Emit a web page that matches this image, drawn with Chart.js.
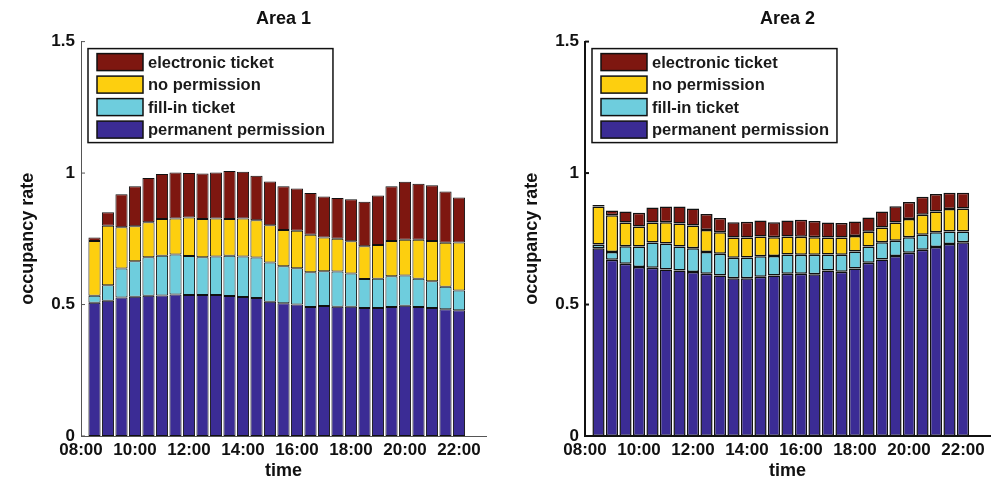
<!DOCTYPE html>
<html>
<head>
<meta charset="utf-8">
<script src="https://cdn.jsdelivr.net/npm/chart.js@4"></script>
<style>
  body { margin: 0; background: #fff; }
  #wrap { position: relative; width: 995px; height: 482px; }
  canvas { position: absolute; top: 0; }
</style>
</head>
<body>
<div id="wrap">
  <canvas id="area1" width="504" height="482" style="left:0"></canvas>
  <canvas id="area2" width="491" height="482" style="left:504px"></canvas>
</div>
<script>
// half-hour slots, bar k sits at slot k (slot 0 = 08:00)
const slotTimes = ['08:30','09:00','09:30','10:00','10:30','11:00','11:30','12:00','12:30','13:00',
  '13:30','14:00','14:30','15:00','15:30','16:00','16:30','17:00','17:30','18:00',
  '18:30','19:00','19:30','20:00','20:30','21:00','21:30','22:00'];
const tickSlots = [0, 4, 8, 12, 16, 20, 24, 28];
const tickLabels = ['08:00','10:00','12:00','14:00','16:00','18:00','20:00','22:00'];
const yTicks = [0, 0.5, 1, 1.5];

const seriesNames = ['permanent permission', 'fill-in ticket', 'no permission', 'electronic ticket'];
const seriesColors = ['#3b2c95', '#6ecddd', '#fdcf0f', '#7e1710'];

// Area 1
const area1Permanent = [0.507,0.514,0.527,0.530,0.533,0.534,0.538,0.536,0.536,0.536,0.532,0.529,0.525,0.511,
  0.505,0.500,0.491,0.494,0.492,0.492,0.487,0.487,0.491,0.495,0.491,0.487,0.482,0.478];
const area1FillIn = [0.026,0.059,0.110,0.135,0.147,0.152,0.152,0.149,0.144,0.147,0.154,0.154,0.154,0.149,
  0.141,0.138,0.132,0.133,0.134,0.126,0.110,0.111,0.117,0.115,0.107,0.102,0.086,0.075];
const area1NoPerm = [0.209,0.227,0.157,0.133,0.133,0.139,0.137,0.146,0.145,0.144,0.139,0.144,0.142,0.142,
  0.137,0.143,0.142,0.128,0.124,0.123,0.125,0.128,0.134,0.136,0.148,0.153,0.167,0.183];
const area1Electronic = [0.013,0.051,0.125,0.152,0.168,0.171,0.175,0.169,0.173,0.175,0.183,0.178,0.169,0.166,
  0.167,0.160,0.159,0.156,0.155,0.159,0.169,0.189,0.208,0.221,0.213,0.212,0.195,0.171];

// Area 2
const area2Permanent = [0.714,0.670,0.655,0.643,0.640,0.633,0.629,0.624,0.617,0.610,0.600,0.600,0.606,0.610,
  0.617,0.617,0.615,0.629,0.625,0.637,0.659,0.671,0.685,0.697,0.708,0.719,0.730,0.737];
const area2FillIn = [0.014,0.030,0.067,0.078,0.096,0.099,0.092,0.090,0.083,0.083,0.078,0.079,0.078,0.075,
  0.073,0.072,0.074,0.061,0.064,0.065,0.062,0.066,0.058,0.059,0.057,0.056,0.048,0.041];
const area2NoPerm = [0.145,0.140,0.090,0.076,0.076,0.081,0.087,0.087,0.083,0.082,0.077,0.076,0.075,0.071,
  0.069,0.069,0.067,0.065,0.066,0.059,0.056,0.056,0.069,0.069,0.076,0.079,0.085,0.087];
const area2Electronic = [0.006,0.018,0.042,0.052,0.057,0.060,0.065,0.064,0.061,0.054,0.058,0.060,0.061,0.057,
  0.061,0.064,0.062,0.057,0.055,0.055,0.054,0.061,0.062,0.065,0.069,0.066,0.062,0.060];

const FONT = '"Liberation Sans", Arial, Helvetica, sans-serif';

// boxed legend in the top-left of the plot + inward y ticks (matlab style)
const boxLegend = {
  id: 'boxLegend',
  afterDatasetsDraw(chart, args, opts) {
    const {ctx, chartArea} = chart;
    const x0 = chartArea.left + 7, y0 = chartArea.top + 7;
    const items = chart.data.datasets.slice().reverse();
    ctx.save();
    ctx.font = 'bold 16.5px ' + FONT;
    const w = Math.max(...items.map(d => ctx.measureText(d.label).width)) + 68;
    const h = items.length * 22.5 + 4;
    ctx.fillStyle = '#fff';
    ctx.fillRect(x0, y0, w, h);
    ctx.strokeStyle = '#111';
    ctx.lineWidth = 1.5;
    ctx.strokeRect(x0, y0, w, h);
    items.forEach((d, i) => {
      const cy = y0 + 13.5 + i * 22.5;
      ctx.fillStyle = d.backgroundColor;
      ctx.fillRect(x0 + 9, cy - 8.5, 46, 17);
      ctx.lineWidth = 1.5;
      ctx.strokeRect(x0 + 9, cy - 8.5, 46, 17);
      ctx.fillStyle = '#1a1a1a';
      ctx.textBaseline = 'middle';
      ctx.fillText(d.label, x0 + 60, cy + 1);
    });
    // tick marks pointing into the plot
    const ys = chart.scales.y;
    ctx.strokeStyle = opts.axisColor;
    ctx.lineWidth = opts.axisWidth;
    yTicks.forEach(v => {
      const py = ys.getPixelForValue(v);
      ctx.beginPath();
      ctx.moveTo(chartArea.left, py);
      ctx.lineTo(chartArea.left + 4, py);
      ctx.stroke();
    });
    ctx.restore();
  }
};

function makeChart(id, title, series, padRight, borderW, axisColor, axisWidth) {
  const datasets = series.map((vals, s) => ({
    label: seriesNames[s],
    data: vals.map((v, i) => ({x: i + 1, y: v})),
    backgroundColor: seriesColors[s],
    borderColor: '#111',
    borderWidth: borderW,
    borderSkipped: false,
    barPercentage: 0.9,
    categoryPercentage: 1
  }));

  return new Chart(document.getElementById(id), {
    type: 'bar',
    data: {datasets: datasets},
    plugins: [boxLegend],
    options: {
      responsive: false,
      animation: false,
      layout: {padding: {top: 0, right: padRight, bottom: 0, left: 0}},
      plugins: {
        legend: {display: false},
        tooltip: {enabled: false},
        title: {
          display: true,
          text: title,
          fullSize: false,
          color: '#111',
          font: {family: FONT, size: 18, weight: 'bold'},
          padding: {top: 8, bottom: 12}
        },
        boxLegend: {axisColor: axisColor, axisWidth: axisWidth}
      },
      scales: {
        x: {
          type: 'linear',
          stacked: true,
          offset: false,
          min: 0,
          max: 30,
          afterBuildTicks: axis => { axis.ticks = tickSlots.map(v => ({value: v})); },
          afterFit: axis => { axis.height = 46; },
          grid: {display: false, drawTicks: false},
          border: {display: true, color: axisColor, width: axisWidth},
          ticks: {
            padding: 4,
            maxRotation: 0,
            autoSkip: false,
            color: '#111',
            font: {family: FONT, size: 17, weight: 'bold'},
            callback: (v, i) => tickLabels[i]
          },
          title: {
            display: true,
            text: 'time',
            color: '#111',
            font: {family: FONT, size: 18, weight: 'bold'},
            padding: {top: 0, bottom: 0}
          }
        },
        y: {
          stacked: true,
          min: 0,
          max: 1.5,
          afterBuildTicks: axis => { axis.ticks = yTicks.map(v => ({value: v})); },
          afterFit: axis => { axis.width = 81; },
          grid: {display: false, drawTicks: false},
          border: {display: true, color: axisColor, width: axisWidth},
          ticks: {
            padding: 6,
            color: '#111',
            font: {family: FONT, size: 17, weight: 'bold'},
            callback: v => String(v)
          },
          title: {
            display: true,
            text: 'occupancy rate',
            color: '#111',
            font: {family: FONT, size: 18, weight: 'bold'},
            padding: {top: 17, bottom: 0}
          }
        }
      }
    }
  });
}

makeChart('area1', 'Area 1', [area1Permanent, area1FillIn, area1NoPerm, area1Electronic], 18, 1, '#555', 1);
makeChart('area2', 'Area 2', [area2Permanent, area2FillIn, area2NoPerm, area2Electronic], 5, 1.5, '#111', 2);
</script>
</body>
</html>
